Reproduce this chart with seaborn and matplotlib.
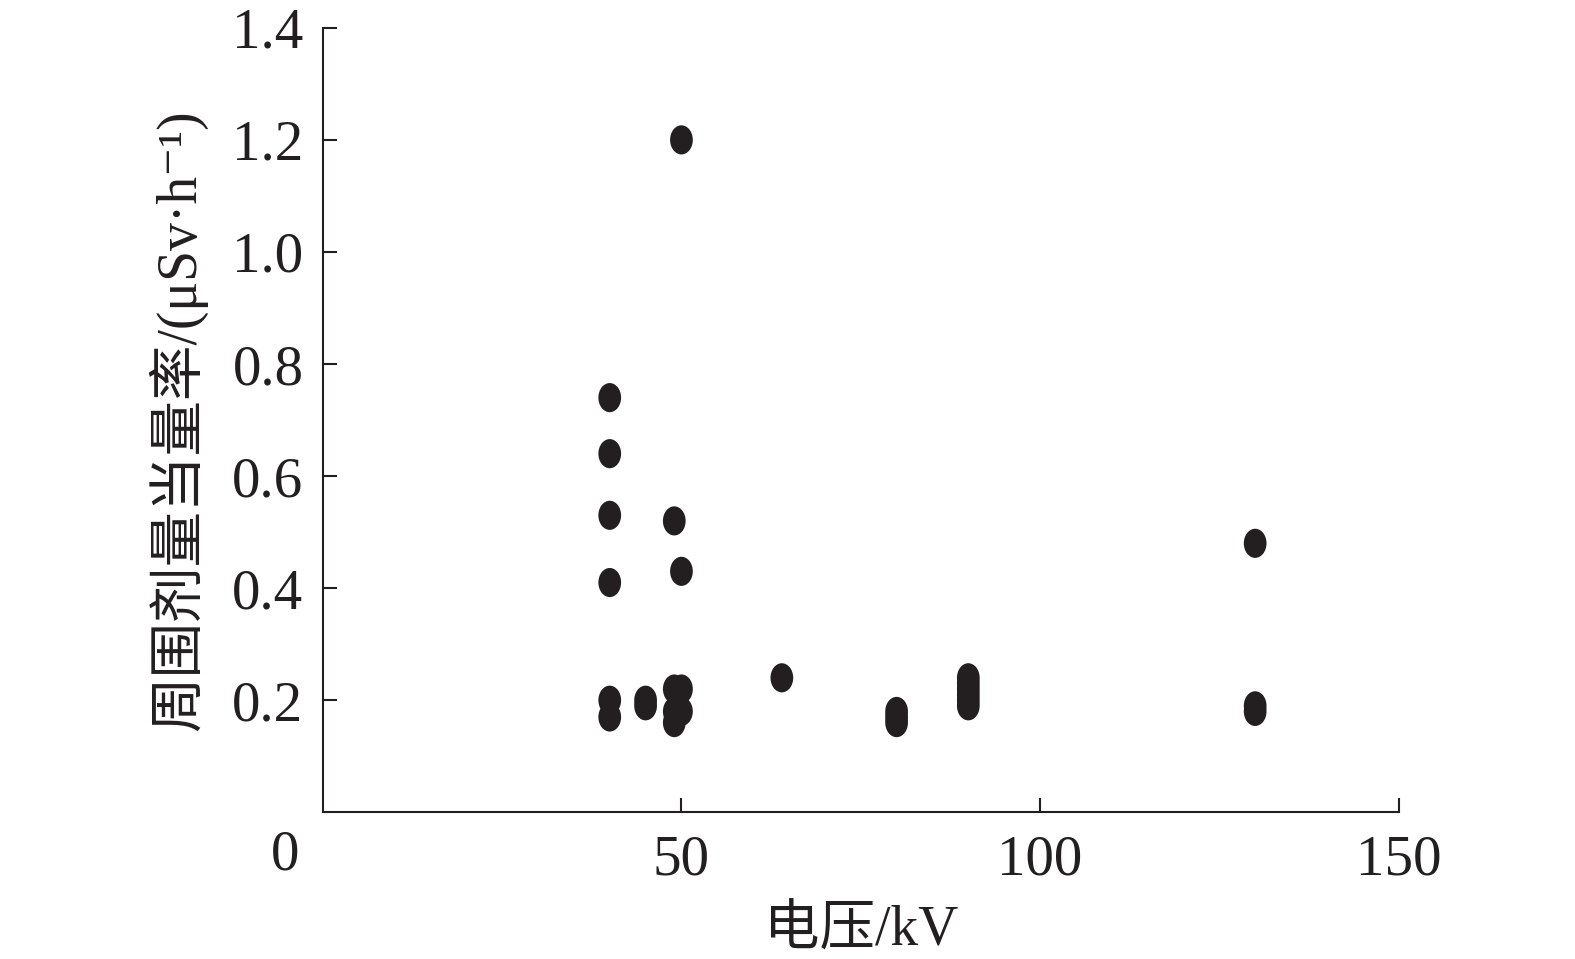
import numpy as np
import pandas as pd
import seaborn as sns
import matplotlib.pyplot as plt
from matplotlib.path import Path
from matplotlib.transforms import Affine2D

# voltage (kV) and ambient dose equivalent rate (uSv/h)
voltage = [40, 40, 40, 40, 40, 40,
           45, 45,
           49, 49, 49, 49, 50, 50, 50, 50,
           64,
           80, 80, 80,
           90, 90, 90, 90, 90, 90,
           130, 130, 130]
dose_rate = [0.74, 0.64, 0.53, 0.41, 0.20, 0.17,
             0.20, 0.19,
             0.52, 0.22, 0.18, 0.16, 1.20, 0.43, 0.22, 0.18,
             0.24,
             0.18, 0.17, 0.16,
             0.24, 0.23, 0.22, 0.21, 0.20, 0.19,
             0.48, 0.19, 0.18]

df = pd.DataFrame({"voltage": voltage, "dose": dose_rate})

sns.set_style("ticks")
plt.rcParams['font.family'] = ['Liberation Serif', 'Noto Sans CJK SC', 'DejaVu Sans']

fig = plt.figure(figsize=(15.75, 9.59), dpi=100)
ax = fig.add_axes([0.205, 0.153, 0.683, 0.818])

# slightly tall ellipse marker like the original
ellipse = Path.unit_circle().transformed(Affine2D().scale(0.78, 1.0))
sns.scatterplot(data=df, x="voltage", y="dose", ax=ax, marker=ellipse,
                s=440, color="#231f20", edgecolor="none", linewidth=0)

ax.set_xlim(0, 150)
ax.set_ylim(0, 1.4)
ax.set_xticks([50, 100, 150])
ax.set_yticks([0.2, 0.4, 0.6, 0.8, 1.0, 1.2, 1.4])
ax.set_yticklabels(["0.2", "0.4", "0.6", "0.8", "1.0", "1.2", "1.4"])
ax.tick_params(axis="both", direction="in", labelsize=41, length=10, width=1.5,
               color="#231f20", labelcolor="#231f20")
ax.tick_params(axis="x", pad=16)
ax.tick_params(axis="y", pad=14)
for side in ["left", "bottom"]:
    ax.spines[side].set_linewidth(1.5)
    ax.spines[side].set_color("#231f20")
sns.despine(ax=ax)

ax.set_xlabel("电压/kV", fontsize=40, color="#231f20", labelpad=14)
ax.set_ylabel("周围剂量当量率/(μSv·h⁻¹)", fontsize=40, color="#231f20", labelpad=18)
fig.text(285 / 1575, 1 - 855 / 959, "0", fontsize=41, color="#231f20",
         ha="center", va="center")

fig.savefig("out.png", dpi=100)
